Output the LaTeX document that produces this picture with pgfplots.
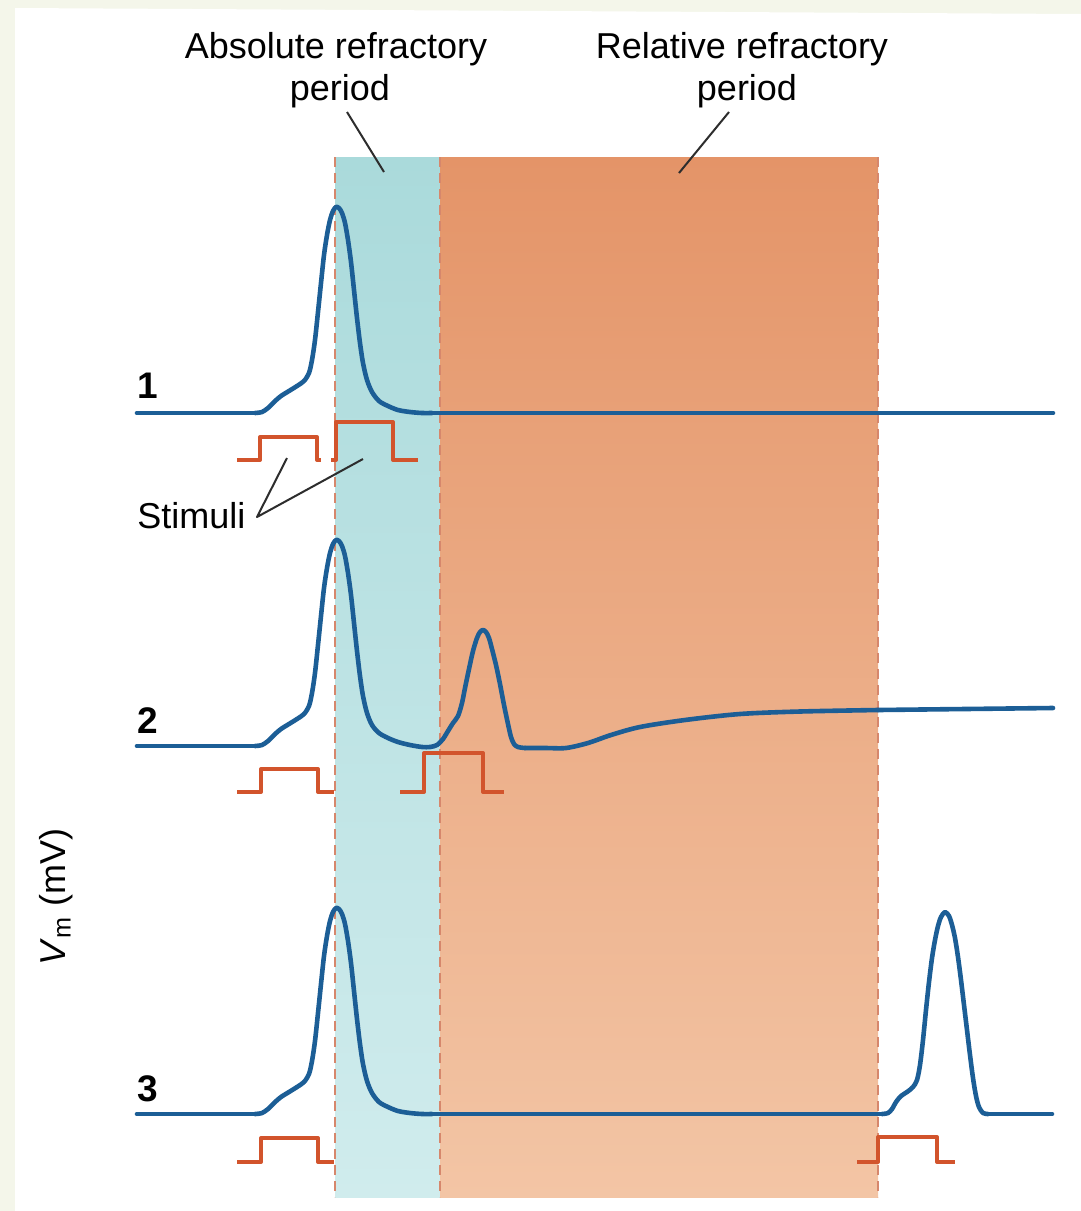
\documentclass[border=0pt]{standalone}
\usepackage{pgfplots}
\pgfplotsset{compat=1.18}
\usepackage{fontspec}
\setmainfont{Liberation Sans}
\definecolor{apblue}{RGB}{28,94,150}
\definecolor{stimor}{RGB}{210,84,44}
\definecolor{cyantop}{RGB}{170,218,219}
\definecolor{cyanbot}{RGB}{208,236,237}
\definecolor{ortop}{RGB}{228,148,104}
\definecolor{orbot}{RGB}{243,197,165}
\definecolor{dashc}{RGB}{214,135,108}
\definecolor{bgcream}{RGB}{244,246,234}
\definecolor{ptr}{RGB}{45,45,45}
\begin{document}
\begin{tikzpicture}
\begin{axis}[
  scale only axis, width=540.5pt, height=605.5pt,
  xmin=0, xmax=1081, ymin=0, ymax=1211, y dir=reverse,
  hide axis, clip=true,
  every axis plot/.append style={line join=round},
  ap/.style={apblue, line width=2.3pt, line cap=round},
  apsm/.style={apblue, line width=2.3pt, smooth, tension=0.5, line cap=round},
]
% background
\addplot[draw=none, fill=bgcream] coordinates {(0,0)(1081,0)(1081,1211)(0,1211)} -- cycle;
\addplot[draw=none, fill=white] coordinates {(15,8)(1081,14)(1081,1211)(15,1211)} -- cycle;
% refractory bands
\addplot[draw=none, top color=cyantop, bottom color=cyanbot] coordinates {(335,157)(440,157)(440,1197)(335,1197)} -- cycle;
\addplot[draw=none, top color=ortop, bottom color=orbot] coordinates {(440,157)(878,157)(878,1197)(440,1197)} -- cycle;
\addplot[dashc, line width=1.2pt, dash pattern=on 5pt off 3pt] coordinates {(335,157)(335,1197)};
\addplot[dashc, line width=1.2pt, dash pattern=on 5pt off 3pt] coordinates {(440,157)(440,1197)};
\addplot[dashc, line width=1.2pt, dash pattern=on 5pt off 3pt] coordinates {(878,157)(878,1197)};
% pointer lines
\addplot[ptr, line width=1pt] coordinates {(347,112)(384,172)};
\addplot[ptr, line width=1pt] coordinates {(729,112)(679,173)};
\addplot[ptr, line width=1pt] coordinates {(287,458)(257,517)(363,459)};
% trace 1
\addplot[ap] coordinates {(137,413)(255,413)};
\addplot[apsm] coordinates {
(255,413)(262,412)(268,408)(274,402)(281,396)(289,391)(297,386)(304,381)(309,373)(312,360)(315,340)(318,312)(321,283)(324,255)(327,235)(330,220)(333,211)(336,207)(339,208)(342,213)(345,223)(348,240)(351,262)(354,290)(357,318)(360,343)(363,363)(367,380)(372,392)(379,401)(388,406)(398,410)(410,412)(422,413)(432,413)};
\addplot[ap] coordinates {(432,413)(1053,413)};
% trace 2
\addplot[ap] coordinates {(137,746)(255,746)};
\addplot[apsm] coordinates {
(255,746)(262,745)(268,741)(274,735)(281,729)(289,724)(297,719)(304,714)(309,706)(312,693)(315,673)(318,645)(321,616)(324,588)(327,568)(330,553)(333,544)(336,540)(339,541)(342,546)(345,556)(348,573)(351,595)(354,623)(357,651)(360,676)(363,696)(367,713)(372,725)(379,733)(388,738)(398,742)(410,745)(422,747)(430,747)(437,745)(443,739)(448,731)(453,723)(458,716)(462,703)(465,688)(469,669)(473,651)(477,638)(480,632)(483,630)(486,632)(489,638)(492,649)(496,665)(500,684)(504,705)(508,724)(511,737)(514,744)(518,747)(525,748)};
\addplot[apsm] coordinates {(525,748)(545,748)(566,748)(588,743)(611,735)(640,727)(685,720)(740,714)(800,711.5)(878,710)};
\addplot[ap] coordinates {(878,710)(1053,708)};
% trace 3
\addplot[ap] coordinates {(137,1114)(255,1114)};
\addplot[apsm] coordinates {
(255,1114)(262,1113)(268,1109)(274,1103)(281,1097)(289,1092)(297,1087)(304,1082)(309,1074)(312,1061)(315,1041)(318,1013)(321,984)(324,956)(327,936)(330,921)(333,912)(336,908)(339,909)(342,914)(345,924)(348,941)(351,963)(354,991)(357,1019)(360,1044)(363,1064)(367,1081)(372,1093)(379,1102)(388,1107)(398,1111)(410,1113)(422,1114)(432,1114)};
\addplot[ap] coordinates {(432,1114)(882,1114)};
\addplot[apsm] coordinates {
(882,1114)(888,1113)(892,1109)(896,1102)(901,1096)(907,1092)(913,1087)(917,1080)(920,1065)(923,1040)(926,1010)(929,982)(932,958)(935,940)(938,926)(941,917)(945,912)(949,916)(952,925)(955,938)(958,957)(961,980)(964,1005)(967,1030)(970,1055)(973,1078)(976,1096)(979,1107)(983,1113)(988,1114)};
\addplot[ap] coordinates {(988,1114)(1052,1114)};
% stimuli
\addplot[stimor, line width=2pt, sharp plot] coordinates {(237,460)(260,460)(260,437)(317,437)(317,460)(321,460)};
\addplot[stimor, line width=2pt, sharp plot] coordinates {(331,460)(336,460)(336,422)(393,422)(393,460)(418,460)};
\addplot[stimor, line width=2pt, sharp plot] coordinates {(237,792)(261,792)(261,769)(318,769)(318,792)(334,792)};
\addplot[stimor, line width=2pt, sharp plot] coordinates {(400,792)(424,792)(424,753)(483,753)(483,792)(504,792)};
\addplot[stimor, line width=2pt, sharp plot] coordinates {(237,1162)(261,1162)(261,1138)(318,1138)(318,1162)(334,1162)};
\addplot[stimor, line width=2pt, sharp plot] coordinates {(857,1162)(878,1162)(878,1137)(937,1137)(937,1162)(955,1162)};
% texts
\node[anchor=base, font=\fontsize{18}{21}\selectfont] at (axis cs:336,58) {Absolute refractory};
\node[anchor=base, font=\fontsize{18}{21}\selectfont] at (axis cs:340,100) {period};
\node[anchor=base, font=\fontsize{18}{21}\selectfont] at (axis cs:742,58) {Relative refractory};
\node[anchor=base, font=\fontsize{18}{21}\selectfont] at (axis cs:747,100) {period};
\node[anchor=base, font=\fontsize{18.5}{21}\selectfont\bfseries] at (axis cs:148,398) {1};
\node[anchor=base, font=\fontsize{18.5}{21}\selectfont\bfseries] at (axis cs:148,733) {2};
\node[anchor=base, font=\fontsize{18.5}{21}\selectfont\bfseries] at (axis cs:148,1101) {3};
\node[anchor=base west, inner sep=0pt, font=\fontsize{18}{21}\selectfont] at (axis cs:137,528) {Stimuli};
\node[rotate=90, inner sep=0pt, font=\fontsize{18}{21}\selectfont] at (axis cs:56,897) {\textit{V}\textsubscript{m} (mV)};
\end{axis}
\end{tikzpicture}
\end{document}
